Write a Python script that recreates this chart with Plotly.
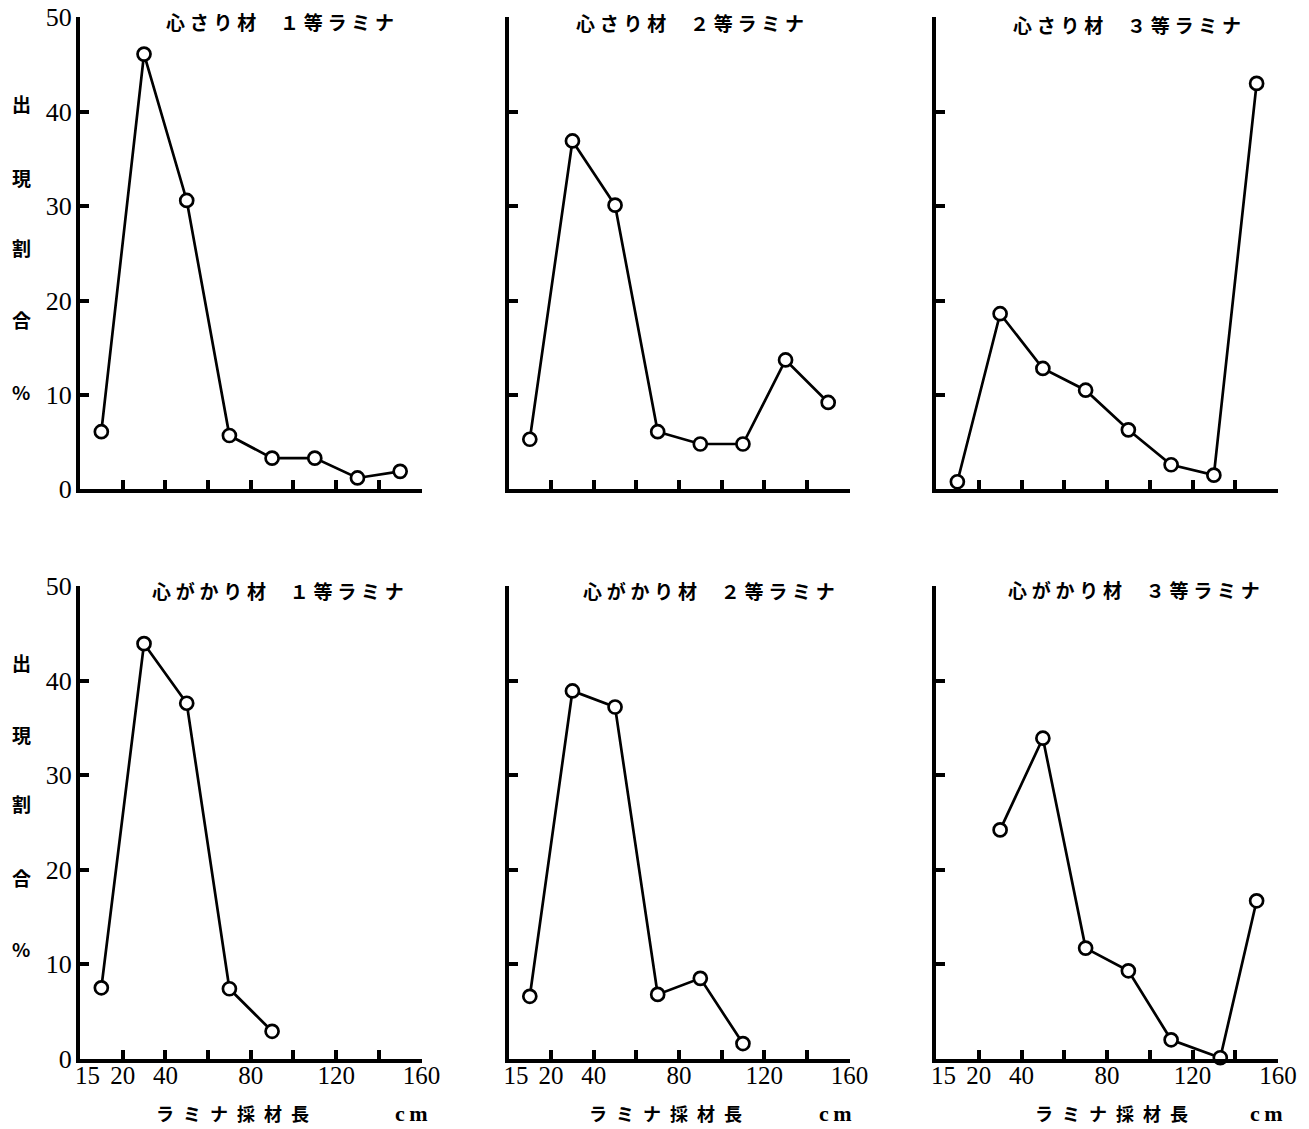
import plotly.graph_objects as go

W, H = 1309, 1129

# ---------------- data ----------------
x_classes = [10, 30, 50, 70, 90, 110, 130, 150]

shinsari_1 = [6.1, 46.1, 30.6, 5.7, 3.3, 3.3, 1.2, 1.9]
shinsari_2 = [5.3, 36.9, 30.1, 6.1, 4.8, 4.8, 13.7, 9.2]
shinsari_3 = [0.8, 18.6, 12.8, 10.5, 6.3, 2.6, 1.5, 43.0]

shingakari_1_x = [10, 30, 50, 70, 90]
shingakari_1 = [7.5, 43.9, 37.6, 7.4, 2.9]
shingakari_2_x = [10, 30, 50, 70, 90, 110]
shingakari_2 = [6.6, 38.9, 37.2, 6.8, 8.5, 1.6]
shingakari_3_x = [30, 50, 70, 90, 110, 133, 150]
shingakari_3 = [24.2, 33.9, 11.7, 9.3, 2.0, 0.1, 16.7]

titles = [
    "心\u2005さ\u2005り\u2005材\u2003\u2005１\u2005等\u2005ラ\u2005ミ\u2005ナ",
    "心\u2005さ\u2005り\u2005材\u2003\u2005２\u2005等\u2005ラ\u2005ミ\u2005ナ",
    "心\u2005さ\u2005り\u2005材\u2003\u2005３\u2005等\u2005ラ\u2005ミ\u2005ナ",
    "心\u2005が\u2005か\u2005り\u2005材\u2003\u2005１\u2005等\u2005ラ\u2005ミ\u2005ナ",
    "心\u2005が\u2005か\u2005り\u2005材\u2003\u2005２\u2005等\u2005ラ\u2005ミ\u2005ナ",
    "心\u2005が\u2005か\u2005り\u2005材\u2003\u2005３\u2005等\u2005ラ\u2005ミ\u2005ナ",
]

x_tickvals = [20, 40, 60, 80, 100, 120, 140, 160]
x_ticktext = ["20", "40", "", "80", "", "120", "", "160"]
x_origin_val = [3.5]          # where the origin label "15" is printed
x_origin_text = ["15"]
y_tickvals = [0, 10, 20, 30, 40, 50]
y_ticktext = ["0", "10", "20", "30", "40", "50"]

ytitle_chars = ["出", "現", "割", "合", "%"]
xtitle_text = "ラ\u2002ミ\u2002ナ\u2002採\u2002材\u2002長"
xunit_text = "c\u2009m"

series = [
    (x_classes, shinsari_1),
    (x_classes, shinsari_2),
    (x_classes, shinsari_3),
    (shingakari_1_x, shingakari_1),
    (shingakari_2_x, shingakari_2),
    (shingakari_3_x, shingakari_3),
]

# ---------------- layout geometry (pixels) ----------------
col_px = [(80, 421.5), (508.5, 849.5), (936, 1278)]
row_px = [(17.3, 489.3), (586, 1058.7)]  # (top, bottom)
title_px = [(280, 22), (690, 23), (1127, 24), (278, 590), (709, 590), (1134, 589)]
ytitle_y = [[104, 177, 247, 320, 391], [662, 734, 803, 877, 948]]
xtitle_px = [(232, 1113), (665, 1113), (1111, 1113)]
xunit_px = [(411, 1113), (835, 1113), (1266, 1113)]


def px(x):
    return x / W


def py(y):
    return 1 - y / H


NUM_FONT = "Liberation Serif"
JP_FONT = "Noto Sans CJK JP"

fig = go.Figure()
layout = dict(
    width=W, height=H,
    margin=dict(l=0, r=0, t=0, b=0, pad=0),
    paper_bgcolor="white", plot_bgcolor="white",
    showlegend=False,
)

annotations = []
for i, (xs, ys) in enumerate(series):
    r, c = divmod(i, 3)
    k = i + 1
    xa = "x" if k == 1 else f"x{k}"
    ya = "y" if k == 1 else f"y{k}"
    fig.add_trace(go.Scatter(
        x=xs, y=ys, xaxis=xa, yaxis=ya, mode="lines+markers",
        line=dict(color="black", width=2.7),
        marker=dict(symbol="circle", size=13, color="white",
                    line=dict(color="black", width=2.7)),
        cliponaxis=False, hoverinfo="skip",
    ))
    x0, x1 = col_px[c]
    yt, yb = row_px[r]
    layout["xaxis" if k == 1 else f"xaxis{k}"] = dict(
        domain=[px(x0), px(x1)], anchor=ya, range=[0, 160],
        showgrid=False, zeroline=False, automargin=False,
        showline=True, linecolor="black", linewidth=4,
        ticks="inside", ticklen=9, tickwidth=4, tickcolor="black",
        tickvals=x_tickvals, ticktext=x_ticktext,
        showticklabels=(r == 1), ticklabelstandoff=-9,
        tickfont=dict(family=NUM_FONT, size=25, color="black"),
        fixedrange=True,
    )
    layout["yaxis" if k == 1 else f"yaxis{k}"] = dict(
        domain=[py(yb), py(yt)], anchor=xa, range=[0, 50],
        showgrid=False, zeroline=False, automargin=False,
        showline=True, linecolor="black", linewidth=4,
        ticks="inside", ticklen=9, tickwidth=4, tickcolor="black",
        tickvals=y_tickvals, ticktext=y_ticktext,
        showticklabels=(c == 0), ticklabelstandoff=-1,
        tickfont=dict(family=NUM_FONT, size=26, color="black"),
        fixedrange=True,
    )
    if r == 1:
        # overlay axis carrying only the origin label "15" (no tick mark)
        kk = 6 + c + 1
        layout[f"xaxis{kk}"] = dict(
            domain=[px(x0), px(x1)], anchor=ya, overlaying=xa, range=[0, 160],
            showgrid=False, zeroline=False, automargin=False, showline=False,
            ticks="", tickvals=x_origin_val, ticktext=x_origin_text,
            showticklabels=True, ticklabelstandoff=-1,
            tickfont=dict(family=NUM_FONT, size=25, color="black"),
            fixedrange=True,
        )
        fig.add_trace(go.Scatter(x=[], y=[], xaxis=f"x{kk}", yaxis=ya,
                                 mode="markers", hoverinfo="skip"))
    tx, ty = title_px[i]
    annotations.append(dict(
        x=px(tx), y=py(ty), xref="paper", yref="paper", showarrow=False,
        text="<b>" + titles[i] + "</b>", xanchor="center", yanchor="middle",
        font=dict(family=JP_FONT, size=19, color="black"),
    ))

for r in range(2):
    for ch, yy in zip(ytitle_chars, ytitle_y[r]):
        annotations.append(dict(
            x=px(21), y=py(yy), xref="paper", yref="paper", showarrow=False,
            text="<b>" + ch + "</b>", xanchor="center", yanchor="middle",
            font=dict(family=JP_FONT, size=19, color="black"),
        ))

for (tx, ty), (ux, uy) in zip(xtitle_px, xunit_px):
    annotations.append(dict(
        x=px(tx), y=py(ty), xref="paper", yref="paper", showarrow=False,
        text="<b>" + xtitle_text + "</b>", xanchor="center", yanchor="middle",
        font=dict(family=JP_FONT, size=18, color="black"),
    ))
    annotations.append(dict(
        x=px(ux), y=py(uy), xref="paper", yref="paper", showarrow=False,
        text="<b>" + xunit_text + "</b>", xanchor="center", yanchor="middle",
        font=dict(family=NUM_FONT, size=22, color="black"),
    ))

layout["annotations"] = annotations
fig.update_layout(**layout)
fig.write_html("out.html")
